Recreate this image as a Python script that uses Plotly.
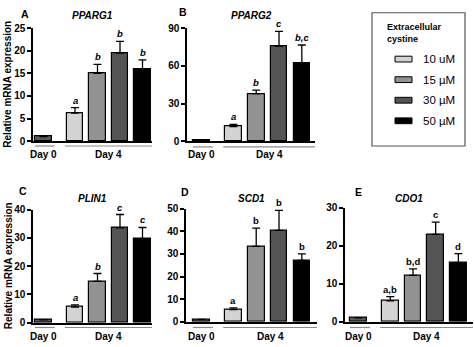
import plotly.graph_objects as go

# Groups and styling
groups = ["Day 0", "10 uM", "15 µM", "30 µM", "50 µM"]
legend_labels = ["10 uM", "15 µM", "30 µM", "50 µM"]
bar_colors = ["#5a5a5a", "#d3d3d3", "#929292", "#545454", "#000000"]
day_labels = ["Day 0", "Day 4"]

genes = ["PPARG1", "PPARG2", "PLIN1", "SCD1", "CDO1"]
panel_letters = ["A", "B", "C", "D", "E"]

# Relative mRNA expression (mean, SEM) and significance letters
pparg1_mean = [1.0, 6.2, 15.0, 19.5, 15.9]
pparg1_err = [0.0, 1.2, 2.0, 2.6, 2.1]
pparg1_sig = ["", "a", "b", "b", "b"]
pparg1_ticks = [0, 5, 10, 15, 20, 25]

pparg2_mean = [0.8, 11.6, 37.8, 75.8, 62.5]
pparg2_err = [0.0, 1.8, 2.8, 11.6, 14.1]
pparg2_sig = ["", "a", "b", "c", "b,c"]
pparg2_ticks = [0, 30, 60, 90]

plin1_mean = [1.0, 5.5, 14.6, 33.6, 29.7]
plin1_err = [0.0, 0.8, 2.8, 4.7, 4.0]
plin1_sig = ["", "a", "b", "c", "c"]
plin1_ticks = [0, 10, 20, 30, 40]

scd1_mean = [1.0, 5.3, 33.3, 40.4, 27.1]
scd1_err = [0.0, 0.8, 8.1, 8.9, 2.9]
scd1_sig = ["", "a", "b", "b", "b"]
scd1_ticks = [0, 10, 20, 30, 40, 50]

cdo1_mean = [1.0, 5.5, 12.2, 23.0, 15.5]
cdo1_err = [0.0, 1.1, 1.7, 3.2, 2.4]
cdo1_sig = ["", "a,b", "b,d", "c", "d"]
cdo1_ticks = [0, 10, 20, 30]

means = [pparg1_mean, pparg2_mean, plin1_mean, scd1_mean, cdo1_mean]
errs = [pparg1_err, pparg2_err, plin1_err, scd1_err, cdo1_err]
sigs = [pparg1_sig, pparg2_sig, plin1_sig, scd1_sig, cdo1_sig]
ticks = [pparg1_ticks, pparg2_ticks, plin1_ticks, scd1_ticks, cdo1_ticks]
italic_sig = [True, True, True, False, False]

# Bar positions along each panel's x axis (Day 0 set apart from Day 4)
xpos = [0, 1.4, 2.4, 3.4, 4.4]
BAR_W = 0.73

W, H = 474, 347
FONT = "Arial, Liberation Sans, Helvetica, sans-serif"

# Panel geometry in pixels: axis left, axis right, Day-0 centre, px per unit, top, bottom
panels = [
    dict(x0=33, x1=152, c0=43.5, s=22.5, top=23, bot=140, line=145, lab=154, title=10, letter=(25, 8)),
    dict(x0=187, x1=315, c0=201.5, s=22.8, top=23, bot=140, line=146, lab=154, title=10, letter=(183, 6)),
    dict(x0=33, x1=152, c0=43.5, s=22.5, top=211, bot=328, line=333, lab=342, title=199, letter=(23, 192)),
    dict(x0=186, x1=317, c0=201.5, s=22.8, top=210, bot=327, line=333, lab=342, title=199, letter=(185, 193)),
    dict(x0=345, x1=473, c0=358.5, s=22.7, top=209, bot=327, line=333, lab=342, title=199, letter=(358, 193)),
]


def px(x):
    return x / W


def py(y):
    return 1 - y / H


fig = go.Figure()
annotations = []
shapes = []
layout_axes = {}


def note(**kw):
    kw.setdefault("showarrow", False)
    kw.setdefault("xanchor", "center")
    kw.setdefault("yanchor", "middle")
    annotations.append(kw)


for i, p in enumerate(panels):
    n = "" if i == 0 else str(i + 1)
    xa, ya = "x" + n, "y" + n
    xr = [(p["x0"] - p["c0"]) / p["s"], (p["x1"] - p["c0"]) / p["s"]]
    fig.add_trace(go.Bar(
        x=xpos, y=means[i], width=BAR_W,
        marker=dict(color=bar_colors, line=dict(color="black", width=1.2)),
        error_y=dict(type="data", array=errs[i], arrayminus=[0] * 5, symmetric=False,
                     color="black", thickness=1.3, width=4),
        xaxis=xa, yaxis=ya, showlegend=False, hoverinfo="skip",
    ))
    layout_axes["xaxis" + n] = dict(
        domain=[px(p["x0"]), px(p["x1"])], range=xr, anchor=ya,
        showline=True, linecolor="black", linewidth=1.5, showticklabels=False,
        ticks="", showgrid=False, zeroline=False, fixedrange=True,
    )
    layout_axes["yaxis" + n] = dict(
        domain=[py(p["bot"]), py(p["top"])], range=[0, ticks[i][-1]], anchor=xa,
        tickvals=ticks[i], ticks="outside", ticklen=4, tickwidth=1.5, tickcolor="black",
        showline=True, linecolor="black", linewidth=1.5, showgrid=False, zeroline=False,
        tickfont=dict(family=FONT, size=10, color="black", weight="bold"), fixedrange=True,
    )
    # significance letters above each error bar
    for j in range(1, 5):
        txt = sigs[i][j]
        txt = "<b><i>%s</i></b>" % txt if italic_sig[i] else "<b>%s</b>" % txt
        note(x=xpos[j], y=means[i][j] + errs[i][j], xref=xa, yref=ya, text=txt,
             yanchor="bottom", yshift=0,
             font=dict(family=FONT, size=9.5, color="black"))
    # gene title
    note(x=px((p["x0"] + p["x1"]) / 2), y=py(p["title"]), xref="paper", yref="paper",
         text="<b><i>%s</i></b>" % genes[i],
         font=dict(family=FONT, size=10, color="black"))
    # panel letter
    note(x=px(p["letter"][0]), y=py(p["letter"][1]), xref="paper", yref="paper",
         text="<b>%s</b>" % panel_letters[i],
         font=dict(family=FONT, size=10.5, color="black"))
    # Day 0 / Day 4 brackets under the axis
    d0 = (-0.38, 0.5)
    d4 = (0.95, xr[1])
    for (a, b), lab in zip([d0, d4], day_labels):
        shapes.append(dict(type="line", xref=xa, yref="paper", x0=a, x1=b,
                           y0=py(p["line"]), y1=py(p["line"]),
                           line=dict(color="#8a8a8a", width=1.2)))
        note(x=(a + b) / 2 if lab != "Day 0" else 0, y=py(p["lab"]), xref=xa, yref="paper",
             text="<b>%s</b>" % lab,
             font=dict(family=FONT, size=10, color="black"))

# y axis titles
for yc in [(23 + 140) / 2, (211 + 328) / 2]:
    note(x=px(8), y=py(yc), xref="paper", yref="paper", textangle=-90,
         text="<b>Relative mRNA expression</b>",
         font=dict(family=FONT, size=10, color="black"))

# Legend box
shapes.append(dict(type="rect", xref="paper", yref="paper",
                   x0=px(372), x1=px(465), y0=py(145), y1=py(7),
                   line=dict(color="#555555", width=1.2), fillcolor="rgba(0,0,0,0)"))
note(x=px(385), y=py(28), xref="paper", yref="paper", xanchor="left",
     text="<b>Extracellular<br>cystine</b>", align="left",
     font=dict(family=FONT, size=9, color="black"))
for k, (lab, col) in enumerate(zip(legend_labels, bar_colors[1:])):
    yc = 55 + k * 21.3
    shapes.append(dict(type="rect", xref="paper", yref="paper",
                       x0=px(395), x1=px(412), y0=py(yc + 3), y1=py(yc - 3),
                       fillcolor=col, line=dict(color="black", width=1)))
    note(x=px(421), y=py(yc), xref="paper", yref="paper", xanchor="left",
         text=lab, font=dict(family=FONT, size=11.5, color="black"))

fig.update_layout(
    width=W, height=H, margin=dict(l=0, r=0, t=0, b=0),
    paper_bgcolor="white", plot_bgcolor="white",
    annotations=annotations, shapes=shapes, bargap=0,
    font=dict(family=FONT, color="black"),
    **layout_axes,
)

fig.write_html("out.html")
